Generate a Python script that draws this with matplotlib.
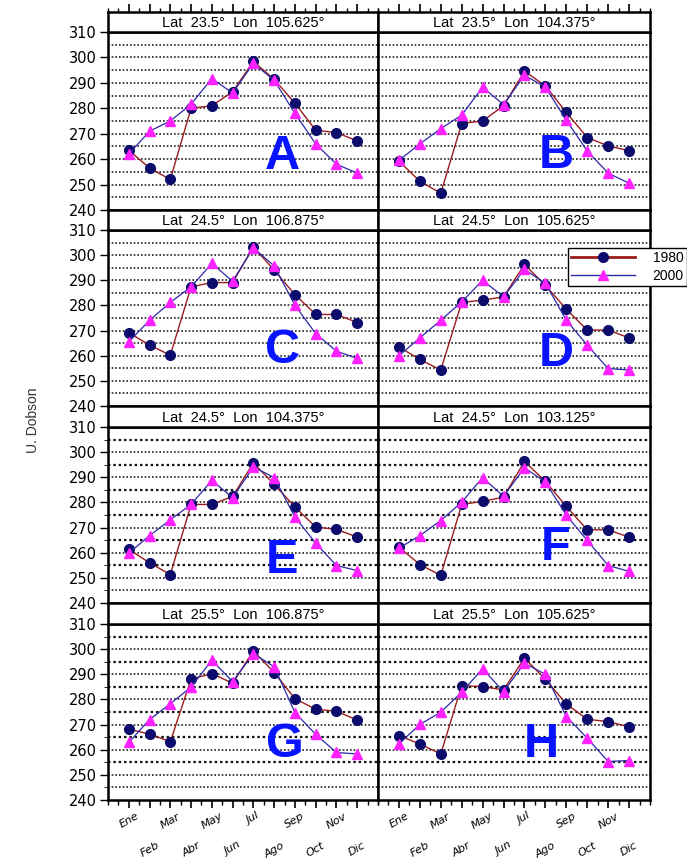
import numpy as np
import matplotlib.pyplot as plt
from matplotlib.lines import Line2D
from matplotlib.ticker import MultipleLocator

plt.rcParams['font.family'] = ['Liberation Sans', 'DejaVu Sans']

meses = ['Ene', 'Feb', 'Mar', 'Abr', 'May', 'Jun', 'Jul', 'Ago', 'Sep', 'Oct', 'Nov', 'Dic']
titulos = ['Lat  23.5°  Lon  105.625°', 'Lat  23.5°  Lon  104.375°',
           'Lat  24.5°  Lon  106.875°', 'Lat  24.5°  Lon  105.625°',
           'Lat  24.5°  Lon  104.375°', 'Lat  24.5°  Lon  103.125°',
           'Lat  25.5°  Lon  106.875°', 'Lat  25.5°  Lon  105.625°']
letras = ['A', 'B', 'C', 'D', 'E', 'F', 'G', 'H']

# ozono total (U. Dobson), 1980 y 2000
a_1980 = [263.5, 256.5, 252, 280, 281, 286.5, 298.4, 291.4, 282, 271.4, 270.4, 267.2]
a_2000 = [262, 271, 275, 281.6, 291.7, 286, 297.7, 291, 278, 266, 258, 254.5]
b_1980 = [259.2, 251.3, 246.6, 274, 275, 281, 294.6, 288.8, 278.4, 268.5, 265.2, 263.3]
b_2000 = [259.5, 266, 272, 277.3, 288.3, 281.4, 293, 288.3, 275.3, 263.2, 254.5, 250.5]
c_1980 = [269.2, 264.2, 260.2, 287.4, 289.1, 289.1, 303.3, 294, 284.3, 276.4, 276.4, 273.2]
c_2000 = [265.5, 274.1, 281.2, 287.4, 296.7, 289.6, 302.9, 295.7, 280.1, 268.8, 261.8, 258.9]
d_1980 = [263.5, 258.5, 254.3, 281.2, 282.1, 283.4, 296.3, 288, 278.5, 270.2, 270.2, 267.1]
d_2000 = [260, 267.1, 274.1, 281.4, 290, 283.4, 294.3, 288.8, 274.1, 264.2, 254.9, 254.3]
e_1980 = [261.3, 256, 251.3, 279.2, 279.2, 282.4, 295.7, 287.2, 278.2, 270.2, 269.3, 266.2]
e_2000 = [259.8, 266.8, 273.1, 279.2, 288.8, 281.9, 294.1, 289.9, 274.2, 263.8, 254.9, 252.9]
f_1980 = [262.2, 255.3, 251, 279.2, 280.4, 282.1, 296.3, 288.4, 278.4, 269.1, 269.1, 266.2]
f_2000 = [261.8, 266.8, 272.8, 280.1, 289.9, 282.4, 293.8, 288.1, 274.9, 264.9, 254.9, 252.6]
g_1980 = [268.2, 266.2, 263.2, 288.1, 290.3, 286.4, 299.3, 290.7, 280.3, 276.1, 275.3, 271.8]
g_2000 = [262.9, 272, 278.3, 284.9, 295.6, 287.1, 298.2, 293, 274.8, 266.1, 258.9, 258.3]
h_1980 = [265.6, 262.3, 258.3, 285.5, 285.1, 283.8, 296.4, 288, 278.2, 272.1, 271.2, 269.1]
h_2000 = [262.3, 270.1, 274.9, 282.9, 292.2, 283.1, 294.4, 290, 273.2, 264.6, 255.3, 255.7]

serie_1980 = [a_1980, b_1980, c_1980, d_1980, e_1980, f_1980, g_1980, h_1980]
serie_2000 = [a_2000, b_2000, c_2000, d_2000, e_2000, f_2000, g_2000, h_2000]

# posicion de las letras (mes, valor)
pos_letra = [(8.4, 261), (8.5, 261.4), (8.4, 262), (8.5, 261),
             (8.4, 257), (8.5, 262), (8.5, 262), (7.8, 262)]

W, H = 687, 864
fig = plt.figure(figsize=(W / 100, H / 100), dpi=100)

cols = [(108, 378), (378, 650)]
rows = [(32, 210), (230, 406), (427, 603), (624, 800)]
strips = [(12, 32), (210, 230), (406, 427), (603, 624)]

x = np.arange(1, 13)
rojo = '#9b1c1c'
azul = '#2a2aa8'
marino = '#0c0c6c'
magenta = '#ff22ff'

for i in range(8):
    r, c = i // 2, i % 2
    x0, x1 = cols[c]
    y0, y1 = rows[r]
    ax = fig.add_axes([x0 / W, 1 - y1 / H, (x1 - x0) / W, (y1 - y0) / H])
    for yy in range(245, 310, 5):
        grueso = r >= 2 and yy % 10 == 5 and yy > 250
        ax.axhline(yy, color='#111111', lw=1.6 if grueso else 1.1,
                   ls=(0, (1.1, 1.3)), zorder=1)
    ax.plot(x, serie_1980[i], color=rojo, lw=1, marker='o', ms=7,
            mfc=marino, mec=marino, zorder=3)
    ax.plot(x, serie_2000[i], color=azul, lw=0.9, marker='^', ms=7.5,
            mfc=magenta, mec=magenta, zorder=4)
    ax.text(pos_letra[i][0], pos_letra[i][1], letras[i], color='#0814ff',
            fontsize=35, fontweight='bold', ha='center', va='center', zorder=5)
    ax.set_xlim(0, 13)
    ax.set_ylim(240, 310)
    for s in ax.spines.values():
        s.set_linewidth(1.8)
    ax.set_xticks(x)
    ax.xaxis.set_minor_locator(MultipleLocator(0.5))
    ax.tick_params(axis='x', which='major', direction='out', length=6, width=1.2)
    ax.tick_params(axis='x', which='minor', direction='out', length=3.5, width=1)
    if r < 3:
        ax.tick_params(axis='x', which='both', bottom=False, labelbottom=False)
    else:
        ax.set_xticklabels(meses, rotation=30, ha='center', fontsize=8,
                           fontstyle='italic', family='DejaVu Sans')
        ax.tick_params(axis='x', pad=2)
        for t in ax.get_xticklabels()[1::2]:
            t.set_y(-0.165)
    if c == 0:
        ax.set_yticks(range(240, 311, 10))
        ax.tick_params(axis='y', direction='out', length=6, width=1,
                       labelsize=10.5, pad=2)
        for t in ax.get_yticklabels():
            t.set_family('DejaVu Sans')
        if r >= 2:
            ax.yaxis.set_minor_locator(MultipleLocator(5))
            ax.tick_params(axis='y', which='minor', direction='out', length=3)
    else:
        ax.set_yticks([])

    # franja del titulo
    sy0, sy1 = strips[r]
    sax = fig.add_axes([x0 / W, 1 - sy1 / H, (x1 - x0) / W, (sy1 - sy0) / H])
    sax.set_xlim(0, 13)
    sax.set_yticks([])
    for s in sax.spines.values():
        s.set_linewidth(1.8)
    sax.text(0.5, 0.45, titulos[i], ha='center', va='center', fontsize=10.5,
             transform=sax.transAxes)
    if r == 0:
        sax.set_xticks(x)
        sax.xaxis.set_minor_locator(MultipleLocator(0.5))
        sax.tick_params(axis='x', which='major', top=True, bottom=False,
                        labelbottom=False, direction='out', length=6, width=1.2)
        sax.tick_params(axis='x', which='minor', top=True, bottom=False,
                        direction='out', length=3, width=1)
    else:
        sax.set_xticks([])

fig.text(33 / W, 1 - 420 / H, 'U. Dobson', rotation=90, ha='center',
         va='center', fontsize=10, color='#333333')

handles = [Line2D([], [], color=rojo, lw=2, marker='o', ms=7, mfc=marino, mec=marino),
           Line2D([], [], color=azul, lw=1, marker='^', ms=7.5, mfc=magenta, mec=magenta)]
leg = fig.legend(handles, ['1980', '2000'], loc='upper left',
                 bbox_to_anchor=(568 / W, 1 - 248 / H), fontsize=10,
                 handlelength=4.6, handletextpad=1.3, borderpad=0.2,
                 labelspacing=0.3, borderaxespad=0, fancybox=False,
                 framealpha=1, edgecolor='black')
leg.get_frame().set_linewidth(1)

fig.savefig('out.png', dpi=100)
